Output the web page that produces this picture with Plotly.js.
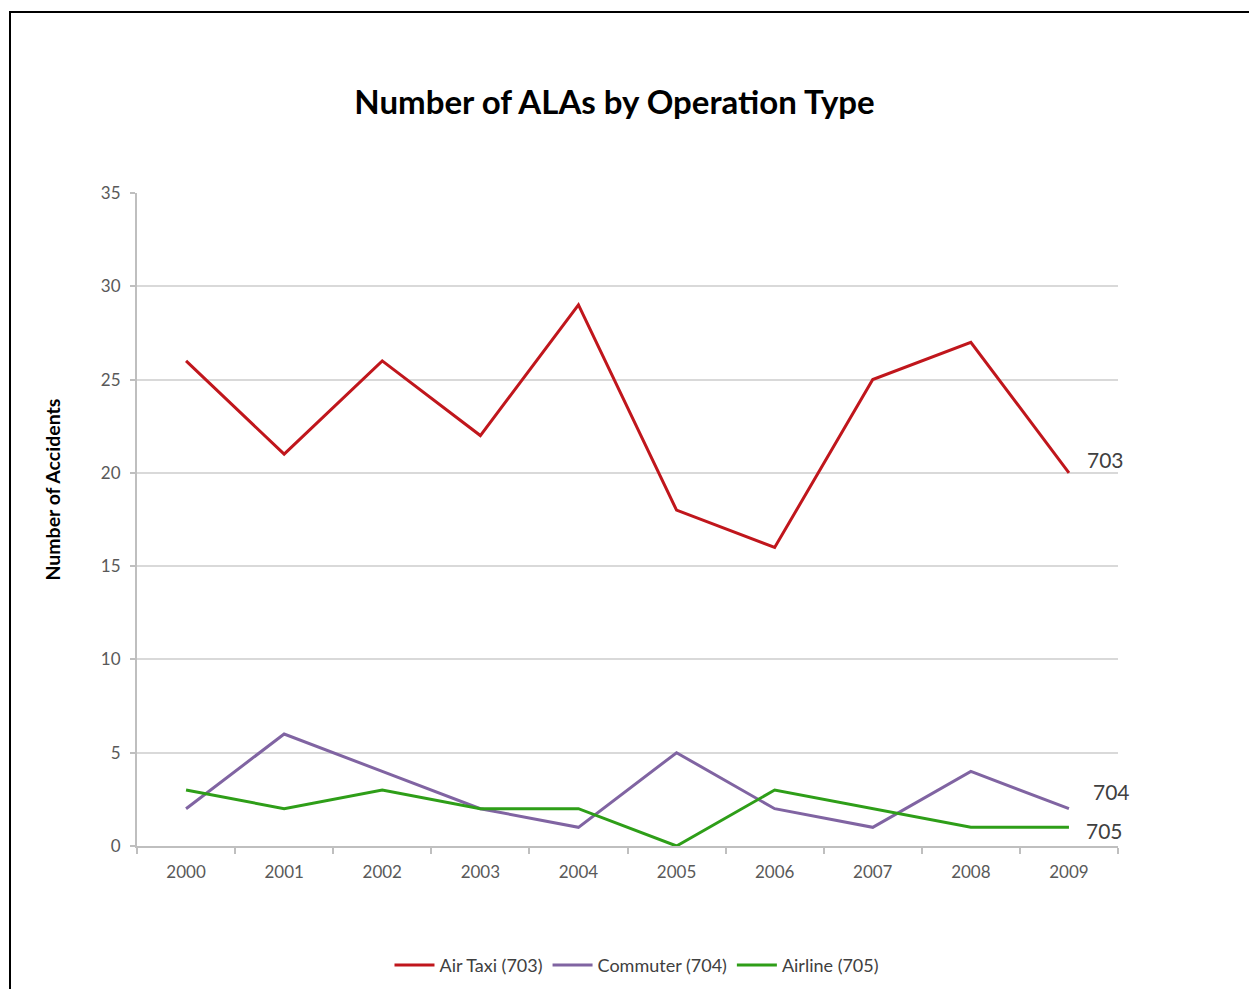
<!DOCTYPE html>
<html>
<head>
<meta charset="utf-8">
<script src="https://cdn.plot.ly/plotly-3.0.1.min.js"></script>
<style>
  html, body { margin: 0; padding: 0; background: #fff; overflow: hidden; }
  #wrap { position: relative; width: 1249px; height: 989px; }
  #frame { position: absolute; left: 9px; top: 11px; width: 1260px; height: 1000px;
           border-left: 2px solid #000; border-top: 2px solid #000; pointer-events: none; }
  #chart { position: absolute; left: 0; top: 0; width: 1249px; height: 989px; }
</style>
</head>
<body>
<div id="wrap">
  <div id="chart"></div>
  <div id="frame"></div>
</div>
<script>
// Approach-and-landing accidents per year, by operation type
const years = ['2000','2001','2002','2003','2004','2005','2006','2007','2008','2009'];
const airTaxi  = [26, 21, 26, 22, 29, 18, 16, 25, 27, 20];
const commuter = [2, 6, 4, 2, 1, 5, 2, 1, 4, 2];
const airline  = [3, 2, 3, 2, 2, 0, 3, 2, 1, 1];
const seriesNames = ['Air Taxi (703)', 'Commuter (704)', 'Airline (705)'];
const seriesCodes = ['703', '704', '705'];
const yTicks = [0, 5, 10, 15, 20, 25, 30, 35];

const colors = ['#C0161C', '#8064A2', '#2E9E18'];
const font = 'Lato, "Open Sans", sans-serif';

const allSeries = [airTaxi, commuter, airline];
const traces = allSeries.map((vals, i) => ({
  type: 'scatter',
  mode: 'lines',
  x: years,
  y: vals,
  name: seriesNames[i],
  line: { color: colors[i], width: 3 },
  hoverinfo: 'x+y+name'
}));

// Series codes placed beside the last point of each line
// (category axes take the category's serial index here)
const lastIdx = years.length - 1;
const labelShift = [[16, 13], [22, 17], [15, -3]];
const endLabels = allSeries.map((vals, i) => ({
  x: lastIdx,
  y: vals[lastIdx],
  xref: 'x', yref: 'y',
  text: seriesCodes[i],
  showarrow: false,
  xanchor: 'left',
  yanchor: 'middle',
  xshift: labelShift[i][0],
  yshift: labelShift[i][1],
  font: { family: font, size: 21, color: '#404040' }
}));

const layout = {
  width: 1249,
  height: 989,
  margin: { l: 137, r: 131, t: 193, b: 143 },
  paper_bgcolor: '#fff',
  plot_bgcolor: '#fff',
  showlegend: true,
  title: {
    text: '<b>Number of ALAs by Operation Type</b>',
    font: { family: font, size: 33, color: '#000' },
    x: 0.492, xanchor: 'center',
    y: 0.896, yanchor: 'middle'
  },
  xaxis: {
    type: 'category',
    range: [-0.5, 9.5],
    automargin: false,
    showgrid: false,
    showline: true,
    linecolor: '#bfbfbf',
    linewidth: 2,
    ticks: 'outside',
    tickson: 'boundaries',
    ticklen: 6,
    tickwidth: 1.5,
    tickcolor: '#bfbfbf',
    ticklabelstandoff: 10,
    tickfont: { family: font, size: 17, color: '#595959' },
    fixedrange: true
  },
  yaxis: {
    range: [0, 35],
    automargin: false,
    tickvals: yTicks,
    ticktext: yTicks.map(String),
    showgrid: true,
    gridcolor: '#d9d9d9',
    gridwidth: 2,
    zeroline: false,
    showline: true,
    linecolor: '#bfbfbf',
    linewidth: 2,
    ticks: 'outside',
    ticklen: 5,
    tickwidth: 1.5,
    tickcolor: '#bfbfbf',
    ticklabelstandoff: 6,
    tickfont: { family: font, size: 17, color: '#595959' },
    fixedrange: true
  },
  legend: {
    orientation: 'h',
    xref: 'container', yref: 'container',
    x: 0.51, xanchor: 'center',
    y: 0.024, yanchor: 'middle',
    font: { family: font, size: 18, color: '#404040' },
    itemwidth: 40,
    tracegroupgap: 0
  },
  annotations: endLabels.concat([{
    text: '<b>Number of Accidents</b>',
    xref: 'paper', yref: 'paper',
    x: -0.0865, y: 0.546,
    textangle: -90,
    showarrow: false,
    xanchor: 'center', yanchor: 'middle',
    font: { family: font, size: 19.5, color: '#000' }
  }])
};

Plotly.newPlot('chart', traces, layout, { displayModeBar: false });
</script>
</body>
</html>
